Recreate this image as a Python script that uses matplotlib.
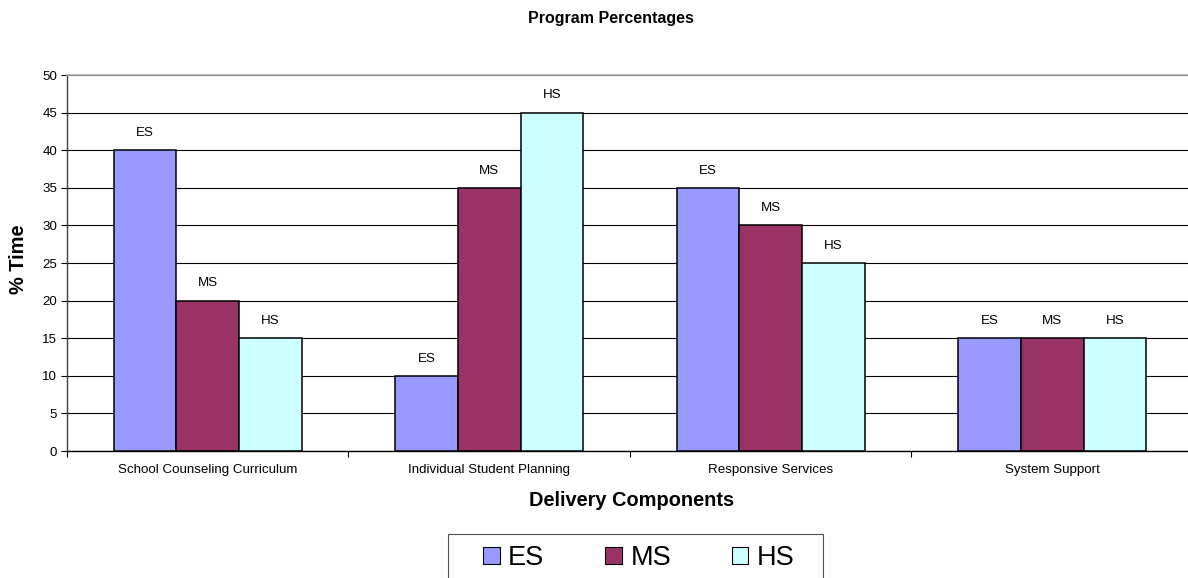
import matplotlib
matplotlib.use("Agg")
import matplotlib.pyplot as plt
import numpy as np
from matplotlib.patches import Rectangle

categories = ["School Counseling Curriculum", "Individual Student Planning",
              "Responsive Services", "System Support"]
series_names = ["ES", "MS", "HS"]
es = [40, 10, 35, 15]
ms = [20, 35, 30, 15]
hs = [15, 45, 25, 15]
colors = ["#9999FF", "#993366", "#CCFFFF"]
yticks = [0, 5, 10, 15, 20, 25, 30, 35, 40, 45, 50]

plt.rcParams['font.family'] = ['Liberation Sans', 'DejaVu Sans']

W, H = 1188, 578
fig = plt.figure(figsize=(W / 100, H / 100), dpi=100)
ax = fig.add_axes([67 / W, 1 - 451 / H, 1126 / W, (451 - 75) / H])

x = np.arange(len(categories))
bw = 1 / 4.5
for i, (name, vals) in enumerate(zip(series_names, [es, ms, hs])):
    pos = x + (i - 1) * bw
    ax.bar(pos, vals, width=bw, color=colors[i], edgecolor="black",
           linewidth=1.1, label=name, zorder=3)
    for p, v in zip(pos, vals):
        ax.annotate(name, (p, v), xytext=(0, 8), textcoords="offset points",
                    ha="center", va="bottom", fontsize=9.6)

ax.set_xlim(-0.5, len(categories) - 0.5)
ax.set_ylim(0, 50)
ax.set_yticks(yticks)
ax.set_yticklabels([str(t) for t in yticks], fontsize=9.6)
ax.yaxis.grid(True, color="black", linewidth=0.8, zorder=0)
ax.set_axisbelow(True)

ax.set_xticks(x)
ax.set_xticklabels(categories, fontsize=9.6)
ax.tick_params(axis="x", length=0, pad=9)
ax.set_xticks(np.arange(-0.5, len(categories) + 0.5, 1), minor=True)
ax.tick_params(axis="x", which="minor", length=4, color="black", width=0.8)
ax.tick_params(axis="y", length=4, width=0.8, pad=3)

ax.spines["right"].set_visible(False)
ax.spines["top"].set_color("#B0B0B0")
ax.spines["top"].set_linewidth(1.2)
ax.spines["left"].set_color("#404040")
ax.spines["bottom"].set_color("black")
ax.spines["left"].set_linewidth(1.0)
ax.spines["bottom"].set_linewidth(1.0)

fig.text(611 / W, 1 - 18 / H, "Program Percentages", ha="center", va="center",
         fontsize=11.5, fontweight="bold")
fig.text(19 / W, 1 - 259 / H, "% Time", ha="center", va="center",
         rotation=90, fontsize=14.4, fontweight="bold")
fig.text(632 / W, 1 - 500 / H, "Delivery Components", ha="center", va="center",
         fontsize=14.4, fontweight="bold")

fig.patches.append(Rectangle((448 / W, 1 - 600 / H), 375 / W, 66 / H,
                             transform=fig.transFigure, facecolor="white",
                             edgecolor="#505050", linewidth=0.8))
handles = [plt.Rectangle((0, 0), 1, 1, facecolor=c, edgecolor="black", linewidth=0.8)
           for c in colors]
fig.legend(handles, series_names, loc="center", ncol=3,
           bbox_to_anchor=(639 / W, 1 - 558 / H), frameon=False,
           fontsize=19.5, handlelength=0.6, handleheight=0.6,
           handletextpad=0.32, columnspacing=2.25)

fig.savefig("out.png", dpi=100)
